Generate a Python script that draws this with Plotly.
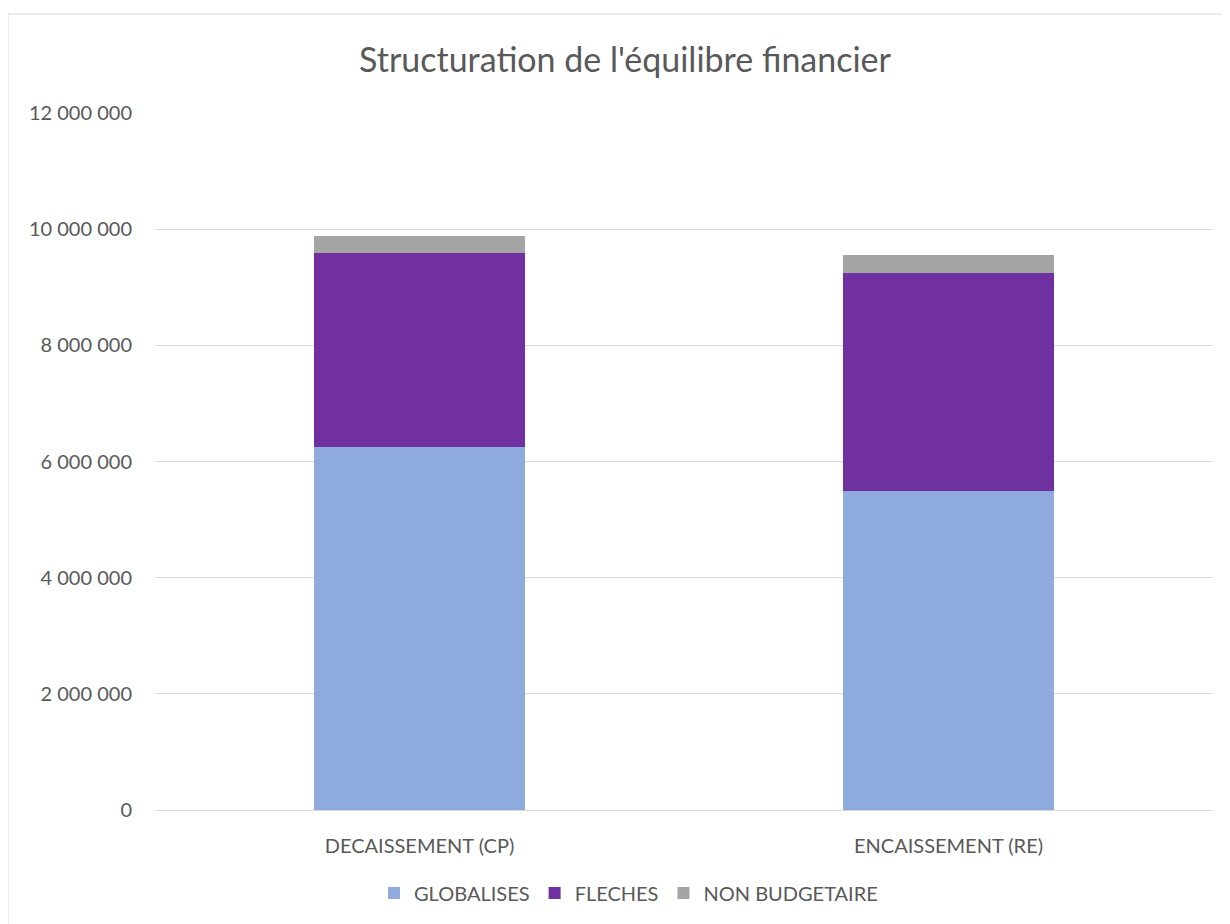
import plotly.graph_objects as go

categories = ["DECAISSEMENT (CP)", "ENCAISSEMENT (RE)"]
globalises = [6253000, 5488000]
fleches = [3338000, 3759000]
non_budgetaire = [283000, 310000]
tick_vals = [0, 2000000, 4000000, 6000000, 8000000, 10000000, 12000000]
tick_text = ["0", "2 000 000", "4 000 000", "6 000 000", "8 000 000", "10 000 000", "12 000 000"]

FONT = "Lato, Open Sans, sans-serif"
fig = go.Figure()
fig.add_trace(go.Bar(x=categories, y=globalises, name="GLOBALISES", marker=dict(color="#8faadc", line=dict(width=0))))
fig.add_trace(go.Bar(x=categories, y=fleches, name="FLECHES", marker=dict(color="#7030a0", line=dict(width=0))))
fig.add_trace(go.Bar(x=categories, y=non_budgetaire, name="NON BUDGETAIRE", marker=dict(color="#a5a5a5", line=dict(width=0))))

OFF = 8  # page body offset
W, H = 1222, 916
L, R, T, B = 147, 17, 105, 114
pw, ph = W - L - R, H - T - B

def px(x):
    return (x - OFF - L) / pw

def py(y):
    return (OFF + H - B - y) / ph

fig.update_layout(
    width=W, height=H,
    barmode="stack",
    bargap=0.6,
    plot_bgcolor="white",
    paper_bgcolor="white",
    margin=dict(l=L, r=R, t=T, b=B),
    title=dict(text="Structuration de l'équilibre financier", x=(625 - OFF) / W, xanchor="center",
               y=1 - (60 - OFF) / H, yanchor="middle",
               font=dict(family=FONT, size=34, color="#595959")),
    font=dict(family=FONT, size=20, color="#595959"),
    xaxis=dict(showgrid=False, showline=True, linecolor="#d9d9d9", linewidth=1,
               ticks="", tickfont=dict(size=20, color="#595959"), ticklabelstandoff=18),
    yaxis=dict(range=[0, 12000000], tickvals=tick_vals, ticktext=tick_text,
               showgrid=True, gridcolor="#d9d9d9", gridwidth=1, zeroline=False,
               ticks="", tickfont=dict(size=20, color="#595959"), ticklabelstandoff=22),
    legend=dict(orientation="h", x=px(374), xanchor="left", y=py(893), yanchor="middle",
                font=dict(size=20, color="#595959"), traceorder="normal",
                itemwidth=30, entrywidthmode="pixels"),
    showlegend=True,
)

fig.add_shape(type="line", xref="paper", yref="paper", x0=px(8), x1=px(1240), y0=py(14), y1=py(14),
              line=dict(color="#d9d9d9", width=1))
fig.add_shape(type="line", xref="paper", yref="paper", x0=px(8), x1=px(8), y0=py(14), y1=py(930),
              line=dict(color="#d9d9d9", width=1))

fig.write_html("out.html")
